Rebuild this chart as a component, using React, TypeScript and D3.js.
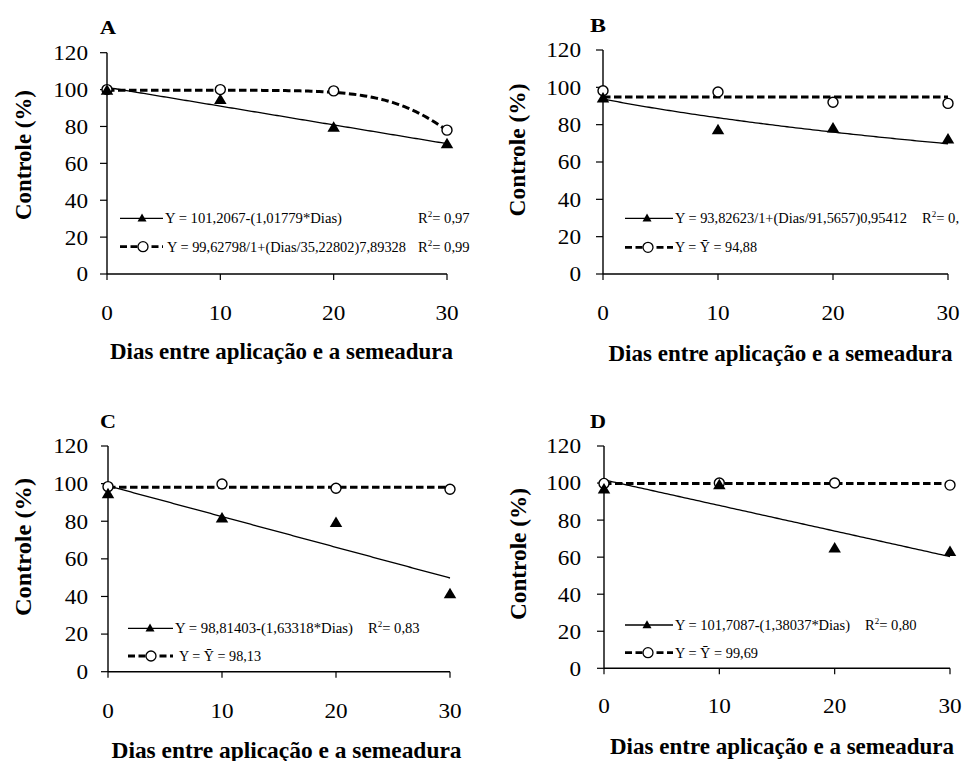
import React from "react";
import * as d3 from "d3";

const days = [0, 10, 20, 30];
const xTicks = [0, 10, 20, 30];
const yTicks = [0, 20, 40, 60, 80, 100, 120];

const triA = [99.5, 94.4, 79.4, 70.5];
const circA = [100, 100, 99.3, 78];
const triB = [94.1, 77.1, 78, 72.1];
const circB = [98.2, 97.5, 92, 91.4];
const triC = [94.5, 81.5, 79.2, 41.3];
const circC = [98.4, 99.8, 97.5, 97];
const triD = [96.6, 98.9, 64.8, 62.9];
const circD = [99.8, 100, 100, 98.9];

const panelLabels = ["A", "B", "C", "D"];
const legendTri = [
  "Y = 101,2067-(1,01779*Dias)",
  "Y = 93,82623/1+(Dias/91,5657)0,95412",
  "Y = 98,81403-(1,63318*Dias)",
  "Y = 101,7087-(1,38037*Dias)",
];
const legendCirc = [
  "Y = 99,62798/1+(Dias/35,22802)7,89328",
  "Y = Ȳ = 94,88",
  "Y = Ȳ = 98,13",
  "Y = Ȳ = 99,69",
];
const r2Tri = ["0,97", "0,", "0,83", "0,80"];
const r2Circ = ["0,99", null, null, null];

type Fit = (x: number) => number;
const fitsTri: Fit[] = [
  (x) => 101.2067 - 1.01779 * x,
  (x) => 93.82623 / (1 + Math.pow(x / 91.5657, 0.95412)),
  (x) => 98.81403 - 1.63318 * x,
  (x) => 101.7087 - 1.38037 * x,
];
const fitsCirc: Fit[] = [
  (x) => 99.62798 / (1 + Math.pow(x / 35.22802, 7.89328)),
  () => 94.88,
  () => 98.13,
  () => 99.69,
];

const triData = [triA, triB, triC, triD];
const circData = [circA, circB, circC, circD];

const FONT = "Liberation Serif, Times New Roman, serif";

type Layout = {
  x0: number; x1: number; y0: number; y1: number;
  labelX: number; labelY: number;
  yTitleX: number; yTitleY: number; yTitleLen: number;
  xTitleX: number; xTitleY: number; xTitleLen: number;
  xTickY: number; yTickX: number;
  legX: number; legT1: number; legT2: number; legY1: number; legY2: number;
  len1: number; len2: number; r2X: number;
};

const layouts: Layout[] = [
  { x0: 107, x1: 447, y0: 274, y1: 52.7, labelX: 100, labelY: 34, yTitleX: 31, yTitleY: 155, yTitleLen: 130, xTitleX: 281.5, xTitleY: 359, xTitleLen: 343, xTickY: 319.5, yTickX: 88, legX: 120, legT1: 165, legT2: 167, legY1: 218.3, legY2: 246.7, len1: 177, len2: 239, r2X: 418 },
  { x0: 603, x1: 948, y0: 274, y1: 50, labelX: 590, labelY: 32, yTitleX: 525, yTitleY: 150, yTitleLen: 133, xTitleX: 780.5, xTitleY: 361, xTitleLen: 344, xTickY: 319.5, yTickX: 581, legX: 625, legT1: 675, legT2: 675, legY1: 218.3, legY2: 247.3, len1: 232, len2: 82, r2X: 922 },
  { x0: 108, x1: 450, y0: 671.7, y1: 446, labelX: 100, labelY: 428, yTitleX: 31, yTitleY: 547, yTitleLen: 138, xTitleX: 286.5, xTitleY: 758, xTitleLen: 350, xTickY: 717.5, yTickX: 88, legX: 128, legT1: 175, legT2: 179, legY1: 628.3, legY2: 656, len1: 178, len2: 82, r2X: 368 },
  { x0: 604, x1: 950, y0: 668.3, y1: 446, labelX: 590, labelY: 428, yTitleX: 526, yTitleY: 554, yTitleLen: 132, xTitleX: 782, xTitleY: 754, xTitleLen: 344, xTickY: 712.5, yTickX: 581, legX: 625, legT1: 675, legT2: 675, legY1: 625, legY2: 652.7, len1: 175, len2: 83, r2X: 865 },
];

function triPath(cx: number, cy: number, w: number, h: number) {
  return `M${cx},${cy - h * 0.6}L${cx + w / 2},${cy + h * 0.4}L${cx - w / 2},${cy + h * 0.4}Z`;
}

const SA = "spacingAndGlyphs";

function R2({ x, y, v }: { x: number; y: number; v: string }) {
  return (
    <text x={x} y={y} fontSize={14.6}>
      R<tspan dy={-6} fontSize={9}>2</tspan>
      <tspan dy={6}>{"= " + v}</tspan>
    </text>
  );
}

function Panel({ i }: { i: number }) {
  const L = layouts[i];
  const x = d3.scaleLinear().domain([0, 30]).range([L.x0, L.x1]);
  const y = d3.scaleLinear().domain([0, 120]).range([L.y0, L.y1]);
  const samples = d3.range(0, 30.01, 0.25);
  const triLine = d3.line<number>().x((d) => x(d)).y((d) => y(fitsTri[i](d)));
  const circLine = d3.line<number>().x((d) => x(d)).y((d) => y(fitsCirc[i](d)));
  return (
    <g style={{ fontFamily: FONT }} fill="#000">
      <text x={L.labelX} y={L.labelY} fontSize={18} fontWeight="bold" textLength={16} lengthAdjust={SA}>{panelLabels[i]}</text>
      <line x1={L.x0} x2={L.x0} y1={y(0)} y2={y(120)} stroke="#000" strokeWidth={1.4} />
      <line x1={L.x0} x2={L.x1} y1={y(0)} y2={y(0)} stroke="#000" strokeWidth={1.4} />
      {yTicks.map((t) => (
        <g key={"y" + t}>
          <line x1={L.x0 - 7} x2={L.x0} y1={y(t)} y2={y(t)} stroke="#000" strokeWidth={1.2} />
          <text x={L.yTickX} y={y(t) + 7.4} fontSize={22} textAnchor="end" textLength={String(t).length * 11.6} lengthAdjust={SA}>{t}</text>
        </g>
      ))}
      {xTicks.map((t) => (
        <g key={"x" + t}>
          <line x1={x(t)} x2={x(t)} y1={y(0)} y2={y(0) + 6} stroke="#000" strokeWidth={1.2} />
          <text x={x(t)} y={L.xTickY} fontSize={22} textAnchor="middle" textLength={String(t).length * 11.6} lengthAdjust={SA}>{t}</text>
        </g>
      ))}
      <text x={L.xTitleX} y={L.xTitleY} fontSize={22.5} fontWeight="bold" textAnchor="middle" textLength={L.xTitleLen} lengthAdjust={SA}>Dias entre aplicação e a semeadura</text>
      <text transform={`translate(${L.yTitleX},${L.yTitleY}) rotate(-90)`} fontSize={23} fontWeight="bold" textAnchor="middle" textLength={L.yTitleLen} lengthAdjust={SA}>Controle (%)</text>
      <path d={triLine(samples) || ""} fill="none" stroke="#000" strokeWidth={1.3} />
      <path d={circLine(samples) || ""} fill="none" stroke="#000" strokeWidth={3} strokeDasharray="7.5,3.5" />
      {days.map((d, k) => (
        <circle key={"c" + k} cx={x(d)} cy={y(circData[i][k])} r={5} fill="#fff" stroke="#000" strokeWidth={1.4} />
      ))}
      {days.map((d, k) => (
        <path key={"t" + k} d={triPath(x(d), y(triData[i][k]), 12.5, 10.5)} fill="#000" />
      ))}
      <line x1={L.legX} x2={L.legT1 - 2} y1={L.legY1} y2={L.legY1} stroke="#000" strokeWidth={1.3} />
      <path d={triPath(L.legX + 22, L.legY1, 9, 8)} fill="#000" />
      <text x={L.legT1} y={L.legY1 + 5} fontSize={14.6} textLength={L.len1} lengthAdjust={SA}>{legendTri[i]}</text>
      <R2 x={L.r2X} y={L.legY1 + 5} v={r2Tri[i]} />
      <line x1={L.legX} x2={L.legT1 - 2} y1={L.legY2} y2={L.legY2} stroke="#000" strokeWidth={2.8} strokeDasharray="7,3.5" />
      <circle cx={L.legX + 23} cy={L.legY2} r={5} fill="#fff" stroke="#000" strokeWidth={1.3} />
      <text x={L.legT2} y={L.legY2 + 5} fontSize={14.6} textLength={L.len2} lengthAdjust={SA}>{legendCirc[i]}</text>
      {r2Circ[i] && <R2 x={L.r2X} y={L.legY2 + 5} v={r2Circ[i] as string} />}
    </g>
  );
}

export default function App() {
  return (
    <svg width={963} height={761} style={{ position: "absolute", left: 0, top: 0, background: "#fff" }}>
      <rect width={963} height={761} fill="#fff" />
      {[0, 1, 2, 3].map((i) => <Panel key={i} i={i} />)}
    </svg>
  );
}
